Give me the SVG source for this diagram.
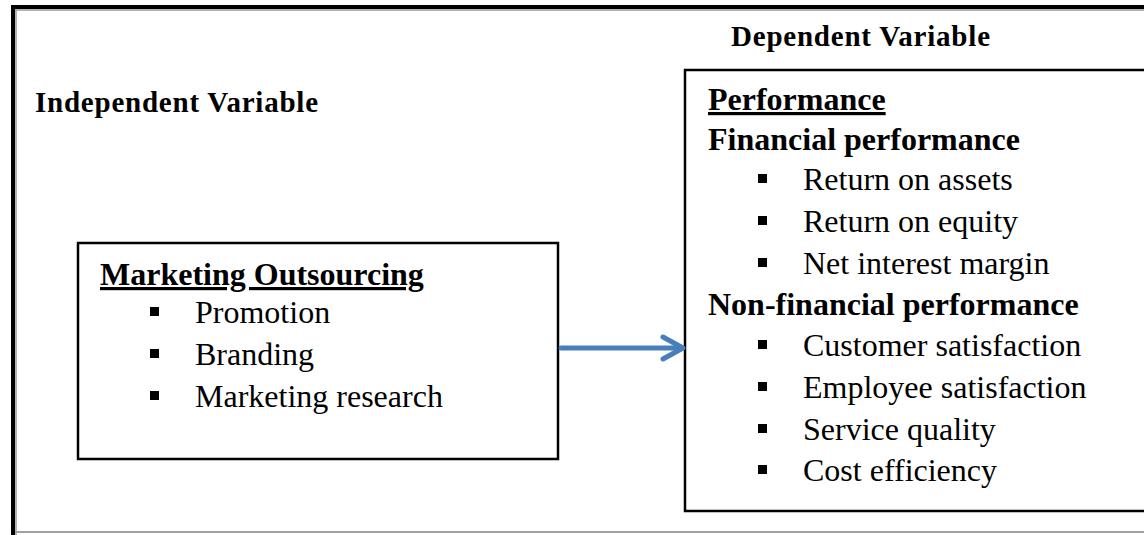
<svg xmlns="http://www.w3.org/2000/svg" width="1144" height="535" viewBox="0 0 1144 535">
  <style>
    .box { fill: #fff; stroke: #000; stroke-width: 2.5; }
    .label { font-family: "Liberation Serif", "Times New Roman", serif; font-weight: bold; font-size: 29px; fill: #000; }
    .head { font-family: "Liberation Serif", "Times New Roman", serif; font-weight: bold; font-size: 32px; fill: #000; }
    .item { font-family: "Liberation Serif", "Times New Roman", serif; font-size: 32px; fill: #000; }
    .ul { text-decoration: underline; }
    .bullet { fill: #000; }
    .link { fill: none; stroke: #4a7ebb; stroke-width: 5; stroke-linecap: round; stroke-linejoin: round; }
  </style>
  <rect width="1144" height="535" fill="#fff"/>

  <!-- outer frame -->
  <g id="frame">
    <line x1="13" y1="5" x2="13" y2="535" stroke="#000" stroke-width="4"/>
    <line x1="11" y1="7" x2="1144" y2="7" stroke="#000" stroke-width="4"/>
    <line x1="16" y1="10" x2="16" y2="535" stroke="#999" stroke-width="1.5"/>
    <line x1="15" y1="10" x2="1144" y2="10" stroke="#999" stroke-width="1.5"/>
    <line x1="15" y1="532" x2="1144" y2="532" stroke="#a0a0a0" stroke-width="2"/>
  </g>

  <g id="label-independent">
    <text class="label" x="35" y="112" textLength="283" lengthAdjust="spacing">Independent Variable</text>
  </g>
  <g id="label-dependent">
    <text class="label" x="731" y="46" textLength="259" lengthAdjust="spacing">Dependent Variable</text>
  </g>

  <!-- independent variable node -->
  <g id="marketing-outsourcing">
    <rect class="box" x="78" y="243" width="480" height="216"/>
    <text class="head ul" x="100" y="285">Marketing Outsourcing</text>
    <rect class="bullet" x="150" y="307" width="9" height="9"/>
    <text class="item" x="195" y="323">Promotion</text>
    <rect class="bullet" x="150" y="349" width="9" height="9"/>
    <text class="item" x="195" y="365">Branding</text>
    <rect class="bullet" x="150" y="391" width="9" height="9"/>
    <text class="item" x="195" y="407">Marketing research</text>
  </g>

  <!-- dependent variable node -->
  <g id="performance">
    <rect class="box" x="685" y="70" width="500" height="441"/>
    <text class="head ul" x="708" y="110">Performance</text>
    <text class="head" x="708" y="150">Financial performance</text>
    <rect class="bullet" x="758" y="174" width="9" height="9"/>
    <text class="item" x="803" y="190">Return on assets</text>
    <rect class="bullet" x="758" y="216" width="9" height="9"/>
    <text class="item" x="803" y="232">Return on equity</text>
    <rect class="bullet" x="758" y="258" width="9" height="9"/>
    <text class="item" x="803" y="274">Net interest margin</text>
    <text class="head" x="708" y="315">Non-financial performance</text>
    <rect class="bullet" x="758" y="340" width="9" height="9"/>
    <text class="item" x="803" y="356">Customer satisfaction</text>
    <rect class="bullet" x="758" y="382" width="9" height="9"/>
    <text class="item" x="803" y="398">Employee satisfaction</text>
    <rect class="bullet" x="758" y="424" width="9" height="9"/>
    <text class="item" x="803" y="440">Service quality</text>
    <rect class="bullet" x="758" y="465" width="9" height="9"/>
    <text class="item" x="803" y="481">Cost efficiency</text>
  </g>

  <!-- connectors -->
  <g id="connectors">
    <line class="link" x1="561" y1="348" x2="682" y2="348"/>
    <polyline class="link" points="663,337 683,348 663,359"/>
  </g>
</svg>
